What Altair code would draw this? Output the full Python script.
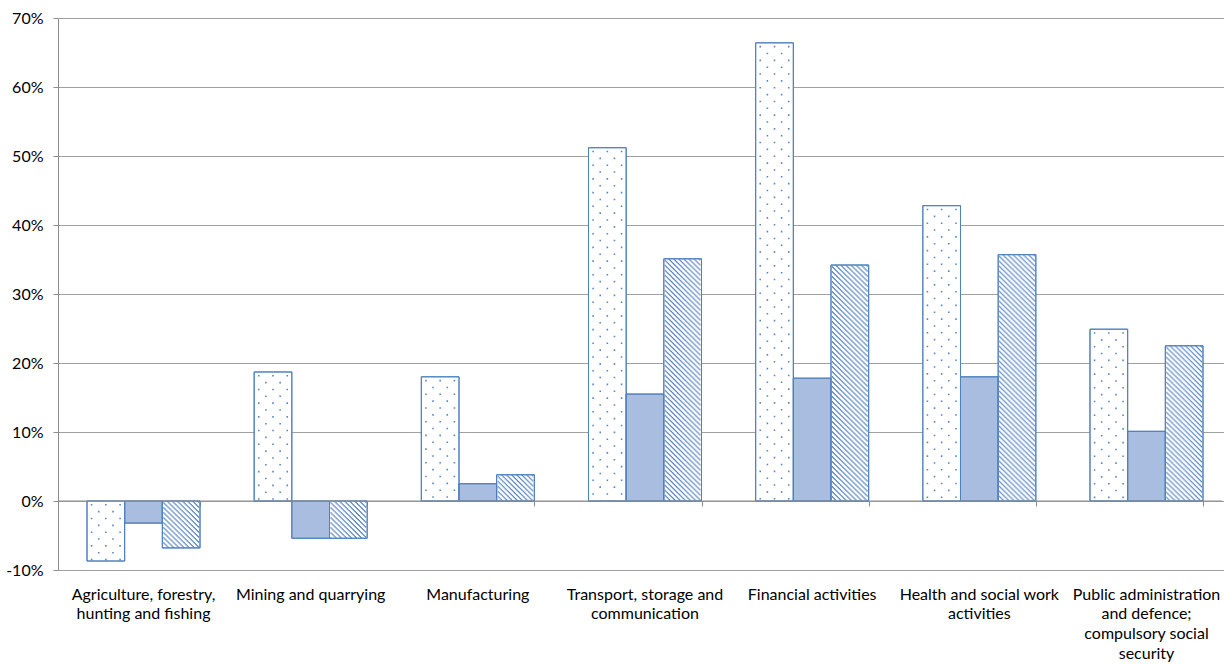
import altair as alt
import pandas as pd

# Sector categories and their wrapped axis labels
categories = [
    "Agriculture, forestry, hunting and fishing",
    "Mining and quarrying",
    "Manufacturing",
    "Transport, storage and communication",
    "Financial activities",
    "Health and social work activities",
    "Public administration and defence; compulsory social security",
]
label_lines = [
    ["Agriculture, forestry,", "hunting and fishing"],
    ["Mining and quarrying"],
    ["Manufacturing"],
    ["Transport, storage and", "communication"],
    ["Financial activities"],
    ["Health and social work", "activities"],
    ["Public administration", "and defence;", "compulsory social", "security"],
]

series = ["Series 1", "Series 2", "Series 3"]

# Percentage change per sector
series_1 = [-8.7, 18.7, 18.0, 51.2, 66.4, 42.8, 24.9]
series_2 = [-3.2, -5.4, 2.5, 15.5, 17.8, 18.0, 10.1]
series_3 = [-6.8, -5.4, 3.8, 35.1, 34.2, 35.7, 22.5]

y_ticks = [-10, 0, 10, 20, 30, 40, 50, 60, 70]

rows = []
for name, values in zip(series, [series_1, series_2, series_3]):
    for cat, v in zip(categories, values):
        rows.append({"category": cat, "series": name, "value": v})
df = pd.DataFrame(rows)

BLUE = "#4f81bd"
TEXTURE = "#5b87c6"
FONT = "Lato"
N_SUB = 37  # texture columns per bar

label_map = "{" + ", ".join(
    "'" + c + "': [" + ", ".join("'" + l + "'" for l in lines) + "]"
    for c, lines in zip(categories, label_lines)
) + "}"

x_scale = alt.Scale(paddingInner=0.324, paddingOuter=0.1735, range=[0, 1174])
off_scale = alt.Scale(domain=series, paddingInner=0, paddingOuter=0)
sub_domain = [f"{s}#{i}" for s in series for i in range(N_SUB)]
sub_scale = alt.Scale(domain=sub_domain, paddingInner=0, paddingOuter=0)
y_scale = alt.Scale(domain=[-10, 70], nice=False)

x_axis = alt.Axis(
    title=None, labelAngle=0, ticks=False, domain=False, grid=False,
    labelExpr=label_map + "[datum.value]",
    labelFont=FONT, labelFontSize=16, labelColor="#000000",
    labelPadding=16, labelLineHeight=19.7, labelBaseline="top",
    labelLimit=220,
)
y_axis = alt.Axis(
    title=None, values=y_ticks, labelExpr="datum.value + '%'",
    grid=True, gridColor="#a0a0a0", gridWidth=1,
    domain=True, domainColor="#8c8c8c", tickColor="#8c8c8c", tickSize=5,
    labelFont=FONT, labelFontSize=16, labelColor="#000000", labelPadding=10,
)

base = alt.Chart(df).transform_calculate(
    top="max(datum.value, 0)", bottom="min(datum.value, 0)"
)

bars = base.mark_bar(stroke=BLUE, strokeWidth=1).encode(
    x=alt.X("category:N", sort=categories, scale=x_scale, axis=x_axis),
    xOffset=alt.XOffset("series:N", sort=series, scale=off_scale),
    y=alt.Y("value:Q", scale=y_scale, axis=y_axis),
    y2=alt.datum(0),
    fill=alt.Fill(
        "series:N",
        scale=alt.Scale(domain=series, range=["#ffffff", "#a9bde1", "#ffffff"]),
        legend=None,
    ),
)

layers = [bars]

# Texture columns: each bar is split into thin sub-columns on its own offset scale
texture = base.transform_calculate(
    col=f"sequence(0, {N_SUB})"
).transform_flatten(["col"]).transform_calculate(
    sub="datum.series + '#' + datum.col"
)


def texture_layer(expr, **mark_kw):
    return texture.transform_filter(expr).mark_rule(**mark_kw).encode(
        x=alt.X("category:N", sort=categories, scale=x_scale, axis=None),
        xOffset=alt.XOffset("sub:N", scale=sub_scale),
        y=alt.Y("top:Q", scale=y_scale, axis=y_axis),
        y2="bottom:Q",
    )


# Dotted texture for the first series: staggered dashes in five columns
dot_cols = [4, 11, 18, 25, 32]
for phase, offset in [(0, 10.7), (1, 3.85)]:
    cols = [c for k, c in enumerate(dot_cols) if k % 2 == phase]
    cond = " || ".join(f"datum.col == {c}" for c in cols)
    layers.append(texture_layer(
        f"datum.series == '{series[0]}' && ({cond})",
        color=TEXTURE, strokeWidth=1.6, strokeDash=[1.6, 12.1],
        strokeDashOffset=offset,
    ))

# Diagonal hatch for the third series: dash phase shifts one pixel per column
for r in range(5):
    layers.append(texture_layer(
        f"datum.series == '{series[2]}' && datum.col >= 1 && "
        f"datum.col <= {N_SUB - 2} && datum.col % 5 == {r}",
        color=TEXTURE, strokeWidth=1, strokeDash=[1.8, 3.2],
        strokeDashOffset=float((-r) % 5),
    ))

# Outlines drawn on top of the textures
outlines = base.mark_bar(stroke=BLUE, strokeWidth=1, fillOpacity=0).encode(
    x=alt.X("category:N", sort=categories, scale=x_scale, axis=None),
    xOffset=alt.XOffset("series:N", sort=series, scale=off_scale),
    y=alt.Y("value:Q", scale=y_scale, axis=y_axis),
    y2=alt.datum(0),
)
layers.append(outlines)

# Horizontal axis line at zero with category separators
zero_line = alt.Chart(pd.DataFrame({"v": [0]})).mark_rule(
    color="#8c8c8c", strokeWidth=1
).encode(y=alt.Y("v:Q", scale=y_scale, axis=y_axis))
layers.append(zero_line)

sep_ticks = base.mark_bar(opacity=0).encode(
    x=alt.X("category:N", sort=categories, scale=x_scale,
            axis=alt.Axis(title=None, labels=False, domain=False, grid=False,
                          ticks=True, tickBand="extent", tickSize=5,
                          tickColor="#8c8c8c", offset=-69, orient="bottom")),
    y=alt.Y("value:Q", scale=y_scale, axis=y_axis),
)
layers.append(sep_ticks)

chart = alt.layer(*layers).resolve_axis(x="independent").resolve_scale(
    xOffset="independent"
).properties(
    width=1164, height=552,
    autosize=alt.AutoSizeParams(type="none"),
    padding={"left": 58, "top": 18, "right": 2, "bottom": 94},
).configure(background="white").configure_view(strokeWidth=0)

chart.save("out.html", embed_options={"renderer": "svg", "actions": False})
